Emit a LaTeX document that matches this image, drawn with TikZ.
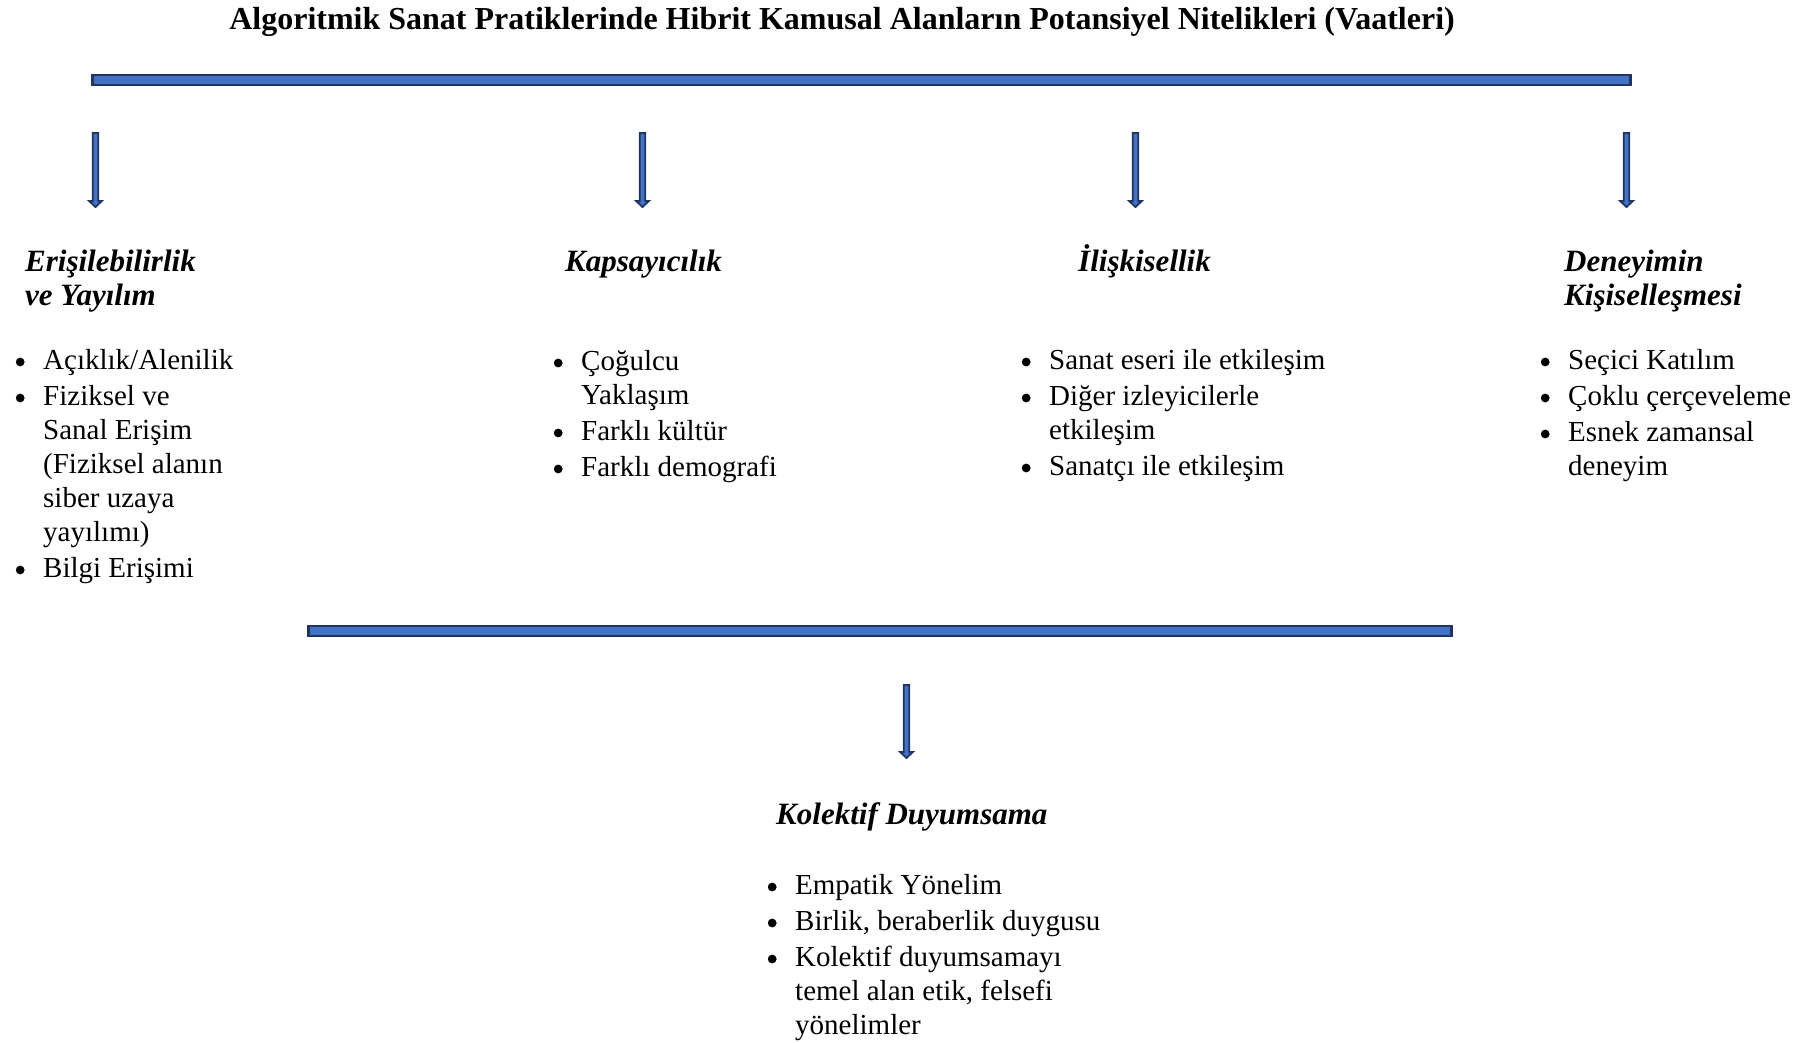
\documentclass[tikz,border=0pt]{standalone}
\usepackage{fontspec}
\setmainfont{Liberation Serif}
\usetikzlibrary{calc}
\definecolor{barblue}{RGB}{68,114,196}
\definecolor{barnavy}{RGB}{31,52,96}
\newcommand\bodyfnt{\fontsize{29}{34}\selectfont}
\newcommand\headfnt{\fontsize{31}{34}\selectfont\bfseries\itshape}
\newcommand\titlefnt{\fontsize{32}{36}\selectfont\bfseries}
\newcommand\bul{\makebox[30pt][l]{\hspace{2.6pt}\raisebox{2.6pt}{\tikz\fill[black] (0,0) circle (4.4pt);}}}
\tikzset{
  barbox/.style={draw=barnavy, line width=2.5pt, fill=barblue, inner sep=0pt, minimum height=10pt},
  downarr/.style={draw=barnavy, line width=1.8pt, fill=barblue, line join=miter},
  headtxt/.style={anchor=base west, inner sep=0pt, font=\headfnt},
  listtxt/.style={anchor=base west, inner sep=0pt, font=\bodyfnt},
}
\begin{document}
\begin{tikzpicture}[x=1pt,y=1pt]
\useasboundingbox (0,0) rectangle (1815,-1043);
% title
\node[anchor=base, inner sep=0pt, font=\titlefnt] (title) at (842,-30)
  {Algoritmik Sanat Pratiklerinde Hibrit Kamusal Alanların Potansiyel Nitelikleri (Vaatleri)};
% bars
\node[barbox, minimum width=1538pt] (topbar) at (861.5,-80) {};
\node[barbox, minimum width=1143pt] (botbar) at (880,-631) {};
% arrow coordinates
\coordinate (a1t) at (95.5,-133);  \coordinate (a1b) at (95.5,-207);
\coordinate (a2t) at (642.5,-133); \coordinate (a2b) at (642.5,-207);
\coordinate (a3t) at (1135.5,-133);\coordinate (a3b) at (1135.5,-207);
\coordinate (a4t) at (1626.5,-133);\coordinate (a4b) at (1626.5,-207);
\coordinate (a5t) at (906.5,-685); \coordinate (a5b) at (906.5,-758);
\foreach \n in {1,...,5}{
  \draw[downarr] ($(a\n t)+(-2.7,0)$) -- ($(a\n b)+(-2.7,6)$) -- ($(a\n b)+(-6.4,6)$)
    -- (a\n b) -- ($(a\n b)+(6.4,6)$) -- ($(a\n b)+(2.7,6)$) -- ($(a\n t)+(2.7,0)$) -- cycle;
}
% headings
\node[headtxt] (h1) at (25,-271) {\begin{tabular}[t]{@{}l@{}}Erişilebilirlik\\ve Yayılım\end{tabular}};
\node[headtxt] (h2) at (565,-271) {Kapsayıcılık};
\node[headtxt] (h3) at (1078,-271) {İlişkisellik};
\node[headtxt] (h4) at (1564,-271) {\begin{tabular}[t]{@{}l@{}}Deneyimin\\Kişiselleşmesi\end{tabular}};
\node[headtxt] (h5) at (776,-824) {Kolektif Duyumsama};
% lists
\node[listtxt] (l1) at (13,-369) {\begin{tabular}[t]{@{}l@{}l@{}}
\bul & Açıklık/Alenilik\\[2pt]
\bul & Fiziksel ve\\
 & Sanal Erişim\\
 & (Fiziksel alanın\\
 & siber uzaya\\
 & yayılımı)\\[2pt]
\bul & Bilgi Erişimi
\end{tabular}};
\node[listtxt] (l2) at (551,-370) {\begin{tabular}[t]{@{}l@{}l@{}}
\bul & Çoğulcu\\
 & Yaklaşım\\[2pt]
\bul & Farklı kültür\\[2pt]
\bul & Farklı demografi
\end{tabular}};
\node[listtxt] (l3) at (1019,-369) {\begin{tabular}[t]{@{}l@{}l@{}}
\bul & Sanat eseri ile etkileşim\\[2pt]
\bul & Diğer izleyicilerle\\
 & etkileşim\\[2pt]
\bul & Sanatçı ile etkileşim
\end{tabular}};
\node[listtxt] (l4) at (1538,-369) {\begin{tabular}[t]{@{}l@{}l@{}}
\bul & Seçici Katılım\\[2pt]
\bul & Çoklu çerçeveleme\\[2pt]
\bul & Esnek zamansal\\
 & deneyim
\end{tabular}};
\node[listtxt] (l5) at (765,-894) {\begin{tabular}[t]{@{}l@{}l@{}}
\bul & Empatik Yönelim\\[2pt]
\bul & Birlik, beraberlik duygusu\\[2pt]
\bul & Kolektif duyumsamayı\\
 & temel alan etik, felsefi\\
 & yönelimler
\end{tabular}};
\end{tikzpicture}
\end{document}
